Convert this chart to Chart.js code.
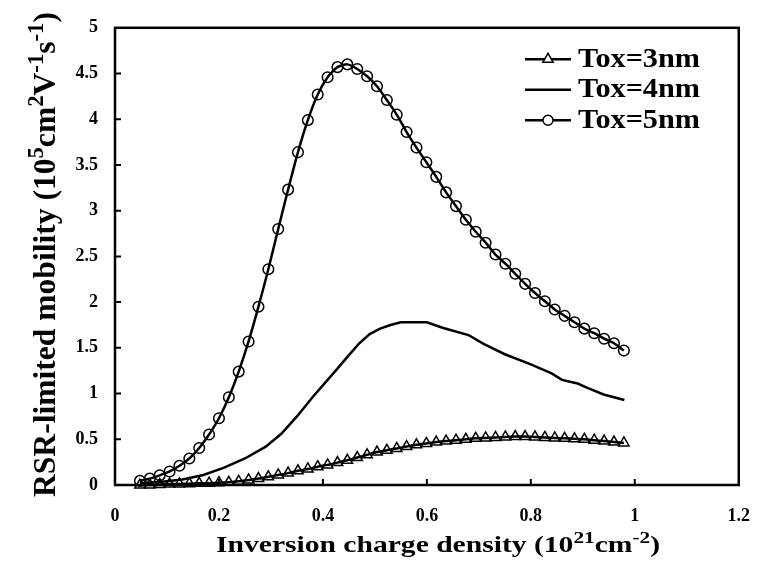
<!DOCTYPE html>
<html lang="en">
<head>
<meta charset="UTF-8">
<title>RSR-limited mobility</title>
<style>
  html, body { margin: 0; padding: 0; background: #fff; }
  canvas { display: block; }
</style>
</head>
<body>
<canvas id="chart" width="771" height="566"></canvas>
<script src="https://cdn.jsdelivr.net/npm/chart.js"></script>
<script>
// inversion charge density (10^21 cm^-2), sample points of the marked curves
const chargeX = [0.048, 0.067, 0.086, 0.105, 0.124, 0.143, 0.162, 0.181, 0.200, 0.219,
                 0.238, 0.257, 0.276, 0.295, 0.314, 0.333, 0.352, 0.371, 0.390, 0.409,
                 0.428, 0.447, 0.466, 0.485, 0.504, 0.523, 0.542, 0.561, 0.580, 0.599,
                 0.618, 0.637, 0.656, 0.675, 0.694, 0.713, 0.732, 0.751, 0.770, 0.789,
                 0.808, 0.827, 0.846, 0.865, 0.884, 0.903, 0.922, 0.941, 0.960, 0.979];

// Tox=3nm (triangles)
const tox3 = [0.00, 0.00, 0.005, 0.01, 0.012, 0.015, 0.018, 0.02, 0.025, 0.03,
              0.04, 0.055, 0.07, 0.09, 0.11, 0.13, 0.155, 0.175, 0.20, 0.22,
              0.245, 0.27, 0.30, 0.33, 0.36, 0.38, 0.40, 0.42, 0.44, 0.455,
              0.47, 0.48, 0.49, 0.50, 0.51, 0.515, 0.52, 0.525, 0.53, 0.53,
              0.525, 0.52, 0.515, 0.51, 0.505, 0.50, 0.49, 0.48, 0.47, 0.46];

// Tox=5nm (circles)
const tox5 = [0.045, 0.07, 0.106, 0.148, 0.21, 0.29, 0.405, 0.553, 0.73, 0.96,
              1.24, 1.57, 1.95, 2.36, 2.80, 3.23, 3.64, 3.99, 4.27, 4.46,
              4.57, 4.60, 4.55, 4.47, 4.36, 4.21, 4.05, 3.86, 3.69, 3.53,
              3.37, 3.20, 3.05, 2.90, 2.77, 2.65, 2.52, 2.42, 2.31, 2.20,
              2.10, 2.01, 1.92, 1.85, 1.78, 1.71, 1.66, 1.60, 1.55, 1.47];

// Tox=4nm (plain line)
const tox4X = [0.048, 0.09, 0.13, 0.17, 0.21, 0.25, 0.29, 0.32, 0.35, 0.38,
               0.42, 0.45, 0.47, 0.49, 0.51, 0.53, 0.55, 0.60, 0.63, 0.68,
               0.71, 0.75, 0.80, 0.84, 0.86, 0.89, 0.91, 0.94, 0.98];
const tox4 = [0.02, 0.035, 0.06, 0.11, 0.19, 0.29, 0.42, 0.56, 0.75, 0.96,
              1.22, 1.42, 1.55, 1.65, 1.71, 1.75, 1.78, 1.78, 1.72, 1.64,
              1.54, 1.43, 1.32, 1.22, 1.15, 1.11, 1.06, 0.99, 0.93];

const seriesNames = ['Tox=3nm', 'Tox=4nm', 'Tox=5nm'];
const xTicks = [0, 0.2, 0.4, 0.6, 0.8, 1, 1.2];
const yTicks = [0, 0.5, 1, 1.5, 2, 2.5, 3, 3.5, 4, 4.5, 5];

// axis titles, [text, superscript?]
const xTitle = [['Inversion charge density (10', 0], ['21', 1], ['cm', 0], ['-2', 1], [')', 0]];
const yTitle = [['RSR-limited mobility (10', 0], ['5', 1], ['cm', 0], ['2', 1], ['V', 0],
                ['-1', 1], ['s', 0], ['-1', 1], [')', 0]];

const FONT = "'Liberation Serif', 'Times New Roman', serif";

function pts(xs, ys) {
    return ys.map((v, i) => ({ x: xs[i], y: v }));
}

// text with superscripts, squeezed/stretched to a given width
function richText(ctx, parts, size, x, y, rot, fitWidth) {
    const sup = size * 0.72;
    let total = 0;
    parts.forEach(([t, s]) => {
        ctx.font = `bold ${s ? sup : size}px ${FONT}`;
        total += ctx.measureText(t).width;
    });
    const sx = fitWidth ? fitWidth / total : 1;
    ctx.save();
    ctx.translate(x, y);
    ctx.rotate(rot);
    ctx.scale(sx, 1);
    ctx.fillStyle = '#000';
    ctx.textAlign = 'left';
    ctx.textBaseline = 'alphabetic';
    let cx = 0;
    parts.forEach(([t, s]) => {
        ctx.font = `bold ${s ? sup : size}px ${FONT}`;
        ctx.fillText(t, cx, s ? -size * 0.38 : 0);
        cx += ctx.measureText(t).width;
    });
    ctx.restore();
}

function marker(ctx, style, cx, cy, r) {
    ctx.beginPath();
    if (style === 'triangle') {
        const h = Math.sin(Math.PI / 3) * r;
        ctx.moveTo(cx, cy - r);
        ctx.lineTo(cx + h, cy + r / 2);
        ctx.lineTo(cx - h, cy + r / 2);
        ctx.closePath();
    } else {
        ctx.arc(cx, cy, r, 0, Math.PI * 2);
    }
    ctx.fillStyle = '#fff';
    ctx.fill();
    ctx.lineWidth = 1.5;
    ctx.stroke();
}

const decorations = {
    id: 'decorations',
    afterDraw(chart) {
        const { ctx, chartArea: a, scales: { x, y } } = chart;
        ctx.save();
        ctx.strokeStyle = '#000';

        // plot frame
        ctx.lineWidth = 2.5;
        ctx.strokeRect(a.left, a.top, a.right - a.left, a.bottom - a.top);

        // inward tick marks
        ctx.lineWidth = 2;
        ctx.beginPath();
        x.ticks.forEach(t => {
            const px = x.getPixelForValue(t.value);
            if (px > a.left + 2 && px < a.right - 2) {
                ctx.moveTo(px, a.bottom);
                ctx.lineTo(px, a.bottom - 6);
            }
        });
        y.ticks.forEach(t => {
            const py = y.getPixelForValue(t.value);
            if (py > a.top + 2 && py < a.bottom - 2) {
                ctx.moveTo(a.left, py);
                ctx.lineTo(a.left + 6, py);
            }
        });
        ctx.stroke();

        // axis titles
        richText(ctx, xTitle, 24, 216, 551.7, 0, 444);
        richText(ctx, yTitle, 32, 55, 497, -Math.PI / 2, 485);

        // legend
        let legendFit = null;
        chart.data.datasets.forEach((ds, i) => {
            const ly = 59.3 + i * 30.5;
            ctx.lineWidth = 2.5;
            ctx.beginPath();
            ctx.moveTo(525, ly);
            ctx.lineTo(571, ly);
            ctx.stroke();
            if (ds.pointRadius > 0) marker(ctx, ds.pointStyle, 548, ly, ds.pointStyle === 'triangle' ? 6 : 5);
            if (legendFit === null) {
                ctx.font = `bold 27px ${FONT}`;
                legendFit = 122 / ctx.measureText(ds.label).width;
            }
            ctx.font = `bold 27px ${FONT}`;
            richText(ctx, [[ds.label, 0]], 27, 578, ly + 7.4, 0, ctx.measureText(ds.label).width * legendFit);
        });
        ctx.restore();
    }
};

const tickFont = { family: FONT, size: 18, weight: 'bold' };

new Chart(document.getElementById('chart'), {
    type: 'line',
    data: {
        datasets: [{
            label: seriesNames[0],
            data: pts(chargeX, tox3),
            borderColor: '#000',
            borderWidth: 2.5,
            pointStyle: 'triangle',
            pointRadius: 6,
            pointBorderWidth: 1.5,
            pointBorderColor: '#000',
            pointBackgroundColor: 'rgba(0,0,0,0)',
            tension: 0.2,
            clip: false
        }, {
            label: seriesNames[1],
            data: pts(tox4X, tox4),
            borderColor: '#000',
            borderWidth: 2.5,
            pointRadius: 0,
            tension: 0,
            clip: false
        }, {
            label: seriesNames[2],
            data: pts(chargeX, tox5),
            borderColor: '#000',
            borderWidth: 2.5,
            pointStyle: 'circle',
            pointRadius: 5.3,
            pointBorderWidth: 1.5,
            pointBorderColor: '#000',
            pointBackgroundColor: 'rgba(0,0,0,0)',
            tension: 0.2,
            clip: false
        }]
    },
    options: {
        responsive: false,
        animation: false,
        devicePixelRatio: 1,
        events: [],
        layout: { padding: { left: 0, top: 13, right: 12, bottom: 0 } },
        plugins: {
            legend: { display: false },
            tooltip: { enabled: false }
        },
        scales: {
            x: {
                type: 'linear',
                min: 0,
                max: 1.2,
                afterBuildTicks: s => { s.ticks = xTicks.map(v => ({ value: v })); },
                afterFit: s => { s.height = 81; },
                grid: { display: false, drawTicks: false },
                border: { display: false },
                ticks: {
                    color: '#000',
                    font: tickFont,
                    padding: 21,
                    maxRotation: 0,
                    autoSkip: false,
                    callback: v => String(v)
                }
            },
            y: {
                type: 'linear',
                min: 0,
                max: 5,
                afterBuildTicks: s => { s.ticks = yTicks.map(v => ({ value: v })); },
                afterFit: s => { s.width = 115; },
                grid: { display: false, drawTicks: false },
                border: { display: false },
                ticks: {
                    color: '#000',
                    font: tickFont,
                    padding: 17,
                    autoSkip: false,
                    callback: v => String(v)
                }
            }
        }
    },
    plugins: [decorations]
});
</script>
</body>
</html>
